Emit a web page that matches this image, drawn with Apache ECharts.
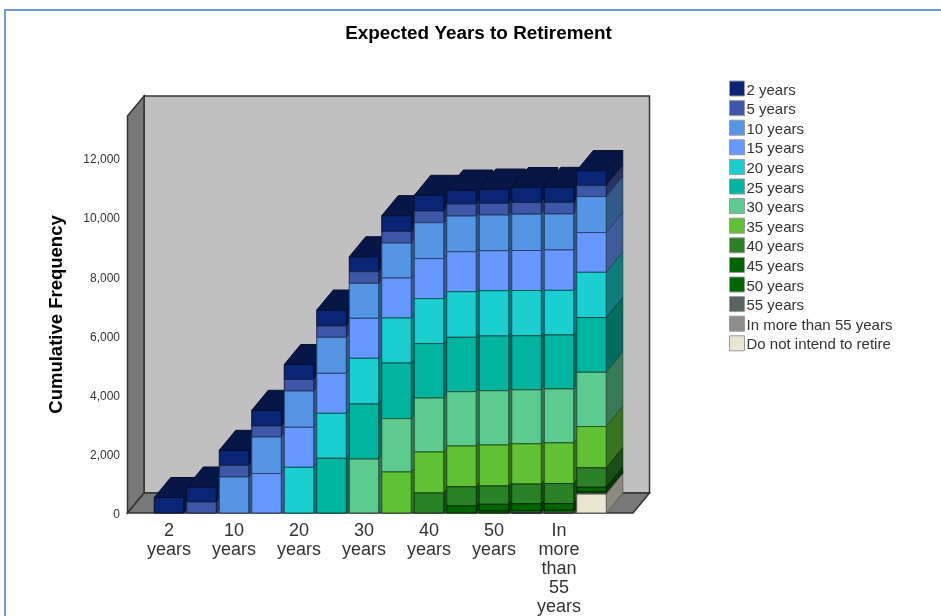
<!DOCTYPE html>
<html>
<head>
<meta charset="utf-8">
<title>Expected Years to Retirement</title>
<script src="https://cdn.jsdelivr.net/npm/echarts@6/dist/echarts.min.js"></script>
<style>
html, body { margin: 0; padding: 0; background: #fff; }
#main { width: 941px; height: 616px; }
</style>
</head>
<body>
<div id="main"></div>
<script>
var categories = ['2 years', '5 years', '10 years', '15 years', '20 years', '25 years', '30 years',
    '35 years', '40 years', '45 years', '50 years', '55 years', 'In more than 55 years', 'Do not intend to retire'];

// cumulative frequency, one array per legend entry
var years2 = [524, 507, 507, 531, 507, 541, 507, 531, 531, 473, 483, 507, 507, 507];
var years5 = [null, 372, 395, 372, 389, 382, 392, 395, 392, 406, 395, 392, 392, 372];
var years10 = [null, null, 1217, 1237, 1227, 1217, 1183, 1183, 1217, 1207, 1207, 1230, 1217, 1217];
var years15 = [null, null, null, 1332, 1352, 1352, 1352, 1352, 1352, 1352, 1352, 1352, 1365, 1342];
var years20 = [null, null, null, null, 1545, 1521, 1545, 1521, 1521, 1541, 1531, 1531, 1507, 1531];
var years25 = [null, null, null, null, null, 1849, 1859, 1879, 1839, 1839, 1849, 1825, 1825, 1849];
var years30 = [null, null, null, null, null, null, 1825, 1805, 1825, 1835, 1835, 1825, 1825, 1835];
var years35 = [null, null, null, null, null, null, null, 1386, 1386, 1376, 1386, 1362, 1376, 1396];
var years40 = [null, null, null, null, null, null, null, null, 676, 652, 619, 666, 676, 656];
var years45 = [null, null, null, null, null, null, null, null, null, 237, 226, 226, 226, 152];
var years50 = [null, null, null, null, null, null, null, null, null, null, 68, 78, 78, 51];
var years55 = [null, null, null, null, null, null, null, null, null, null, null, 8, 8, 17];
var yearsMore = [null, null, null, null, null, null, null, null, null, null, null, null, 6, 10];
var noRetire = [null, null, null, null, null, null, null, null, null, null, null, null, null, 640];

var seriesValues = [years2, years5, years10, years15, years20, years25, years30, years35,
    years40, years45, years50, years55, yearsMore, noRetire];
var seriesColors = ['#0a2575', '#3f57a8', '#5595e5', '#6699ff', '#1bcfd0', '#00b5a0', '#5ccb8e',
    '#5fc234', '#2a8227', '#006400', '#006600', '#56665d', '#908c8a', '#ebe6d2'];

var depthX = 16.5, depthY = 20;   // the fake 3d offset
var barWidth = 29.5;
var wallPad = 25.25;              // gap between first/last band and the walls

function shade(hex, f) {
    var n = parseInt(hex.slice(1), 16);
    var r = Math.round((n >> 16 & 255) * f), g = Math.round((n >> 8 & 255) * f), b = Math.round((n & 255) * f);
    return 'rgb(' + r + ',' + g + ',' + b + ')';
}

function renderBlock(color, isTop) {
    return function (params, api) {
        var i = api.value(0);
        var low = api.coord([i, api.value(1)]);
        var high = api.coord([i, api.value(2)]);
        var x1 = low[0] - barWidth / 2, x2 = low[0] + barWidth / 2;
        var y1 = high[1], y2 = low[1];
        var line = shade(color, 0.42);
        var kids = [{
            type: 'polygon', z2: i * 10,
            shape: { points: [[x2, y1], [x2 + depthX, y1 - depthY], [x2 + depthX, y2 - depthY], [x2, y2]] },
            style: { fill: shade(color, 0.6), stroke: line, lineWidth: 1 }
        }, {
            type: 'rect', z2: i * 10 + 1,
            shape: { x: x1, y: y1, width: barWidth, height: y2 - y1 },
            style: { fill: color, stroke: line, lineWidth: 1 }
        }];
        if (isTop) {
            kids.push({
                type: 'polygon', z2: i * 10 + 2,
                shape: { points: [[x1, y1], [x2, y1], [x2 + depthX, y1 - depthY], [x1 + depthX, y1 - depthY]] },
                style: { fill: shade(color, 0.6), stroke: line, lineWidth: 1 }
            });
        }
        return { type: 'group', children: kids };
    };
}

function renderWalls(params) {
    var c = params.coordSys;
    var xl = c.x - wallPad, xr = c.x + c.width + wallPad;
    var yt = c.y, yb = c.y + c.height;
    function wall(points, fill) {
        return { type: 'polygon', shape: { points: points }, style: { fill: fill, stroke: '#333', lineWidth: 1.5 } };
    }
    return {
        type: 'group',
        children: [
            wall([[xl + depthX, yt - depthY], [xr + depthX, yt - depthY], [xr + depthX, yb - depthY], [xl + depthX, yb - depthY]], '#c0c0c0'),
            wall([[xl, yt], [xl + depthX, yt - depthY], [xl + depthX, yb - depthY], [xl, yb]], '#787878'),
            wall([[xl, yb], [xl + depthX, yb - depthY], [xr + depthX, yb - depthY], [xr, yb]], '#787878')
        ]
    };
}

// stack from the bottom: last legend entry sits on the floor
var running = categories.map(function () { return 0; });
var blocks = [];
for (var s = seriesValues.length - 1; s >= 0; s--) {
    var rows = [];
    seriesValues[s].forEach(function (v, i) {
        if (v == null) return;
        rows.push([i, running[i], running[i] + v]);
        running[i] += v;
    });
    blocks[s] = {
        type: 'custom',
        name: categories[s],
        z: 2,
        silent: true,
        itemStyle: { color: seriesColors[s] },
        renderItem: renderBlock(seriesColors[s], s === 0),
        encode: { x: 0, y: [1, 2] },
        data: rows
    };
}
blocks.unshift({
    type: 'custom',
    name: 'walls',
    z: 1,
    silent: true,
    renderItem: renderWalls,
    encode: { x: 0, y: 1 },
    data: [[0, 0]]
});

var chart = echarts.init(document.getElementById('main'));
chart.setOption({
    animation: false,
    backgroundColor: '#fff',
    textStyle: { fontFamily: 'Liberation Sans' },
    title: {
        text: 'Expected Years to Retirement',
        left: 473.5, top: 19, textAlign: 'center',
        textStyle: { fontSize: 18.9, fontWeight: 'bold', color: '#000', fontFamily: 'Liberation Sans' }
    },
    legend: {
        data: categories,
        orient: 'vertical',
        left: 729, top: 79,
        padding: 0,
        itemWidth: 15, itemHeight: 15, itemGap: 0.6,
        icon: 'rect',
        selectedMode: false,
        itemStyle: { borderColor: '#999', borderWidth: 1 },
        formatter: function (name) { return '{t|' + name + '}'; },
        // rich text so the padding really nudges the label below the swatch centre
        textStyle: {
            rich: { t: { fontSize: 15, lineHeight: 15, padding: [4, 0, 0, -3], color: '#333', fontFamily: 'Liberation Sans' } }
        }
    },
    grid: { left: 152.75, top: 116, width: 455, height: 397, outerBoundsMode: 'none' },
    xAxis: {
        type: 'category',
        data: categories,
        axisLine: { show: false },
        axisTick: { show: false },
        axisLabel: {
            interval: 1, margin: 9, fontSize: 18, lineHeight: 19, color: '#333',
            fontFamily: 'Liberation Sans',
            formatter: function (v) { return v.replace(/ /g, '\n'); }
        }
    },
    yAxis: {
        type: 'value',
        min: 0, max: 13420, interval: 2000,
        offset: wallPad,
        name: 'Cumulative Frequency',
        nameLocation: 'middle',
        nameGap: 61,
        nameTextStyle: { fontSize: 18.5, fontWeight: 'bold', color: '#000', fontFamily: 'Liberation Sans' },
        axisLine: { show: false },
        axisTick: { show: false },
        splitLine: { show: false },
        axisLabel: { margin: 7.5, fontSize: 12, verticalAlign: 'top', lineHeight: 4, color: '#333', showMaxLabel: false, fontFamily: 'Liberation Sans' }
    },
    graphic: [{
        type: 'polyline',
        silent: true,
        shape: { points: [[5, 616], [5, 10], [941, 10]] },
        style: { fill: 'none', stroke: '#6f9bd8', lineWidth: 2 }
    }],
    series: blocks
});
</script>
</body>
</html>
